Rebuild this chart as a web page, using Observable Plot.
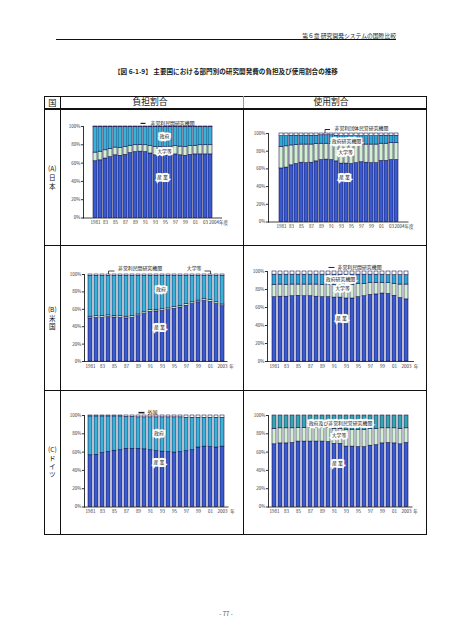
<!DOCTYPE html>
<html><head><meta charset="utf-8">
<script src="https://cdn.jsdelivr.net/npm/d3@7"></script>
<script src="https://cdn.jsdelivr.net/npm/@observablehq/plot@0.6"></script>
<style>
body{margin:0;background:#fff;}
#page{position:relative;width:452px;height:640px;font-family:"Noto Sans CJK JP","Noto Sans CJK SC",sans-serif;color:#1a1a1a;overflow:hidden;background:#fff}
.t{position:absolute;white-space:nowrap;line-height:1;color:#1a1a1a}
.rl{position:absolute;white-space:pre;text-align:center;color:#111;width:30px}
.ln{position:absolute;background:#111}
</style></head>
<body><div id="page"></div>
<script>
// ---------- categories & tick labels ----------
const yearsJp = [1981,1982,1983,1984,1985,1986,1987,1988,1989,1990,1991,1992,1993,1994,1995,1996,1997,1998,1999,2000,2001,2002,2003,2004];
const yearsUsDe = [1981,1982,1983,1984,1985,1986,1987,1988,1989,1990,1991,1992,1993,1994,1995,1996,1997,1998,1999,2000,2001,2002,2003];
const xTicksJp = [1981,1983,1985,1987,1989,1991,1993,1995,1997,1999,2001,2003];
const xTickLabelsJp = ["1981","83","85","87","89","91","93","95","97","99","01","03"];
const xEndYearJp = 2004, xEndLabelJp = "2004年度";
const xTicksUsDe = [1981,1983,1985,1987,1989,1991,1993,1995,1997,1999,2001,2003];
const xTickLabelsUsDe = ["1981","83","85","87","89","91","93","95","97","99","01","2003"];
const xEndYearUsDe = 2003, xEndLabelUsDe = "年";

// ---------- (A) Japan ----------
const jpBurdenSectors = ["産業","大学等","政府","非営利民間研究機関"];
const jpBurdenIndustry = [62,63,65,66.5,68.5,68,69,71,72,72.5,72,70.5,68.5,68,68,68.5,69.5,68.5,68,69,69.5,69.5,69.5,69.5];
const jpBurdenUniv     = [9.5,9.5,9,9,8.5,8.5,8.5,8,7.5,7.5,7.5,8,9,9.5,9.5,9.5,9,9.5,9.5,9.5,9.5,10,10,10];
const jpBurdenGov      = [27.7,26.7,25.2,23.7,22.2,22.7,21.7,20.2,19.7,19.2,19.7,20.7,21.7,21.7,21.7,21.2,20.7,21.2,21.7,20.7,20.2,19.7,19.7,19.7];
const jpBurdenNonprofit= [0.8,0.8,0.8,0.8,0.8,0.8,0.8,0.8,0.8,0.8,0.8,0.8,0.8,0.8,0.8,0.8,0.8,0.8,0.8,0.8,0.8,0.8,0.8,0.8];

const jpUseSectors = ["産業","大学等","政府研究機関","非営利団体民営研究機関"];
const jpUseIndustry = [60.5,61.5,64,65.5,67,66.5,67,68.5,70,70.5,70,68.5,66,66,65.5,66.5,67.5,67,66.5,66.5,69,69,70,70];
const jpUseUniv     = [24.5,24,22.5,21.5,20.5,21,20.5,19.5,18.5,18,18.5,19.5,21,21,21.5,20.5,20,20.5,21,21,19.5,19.5,19,19];
const jpUseGov      = [12,11.5,11,10.5,10,10,10,9.5,9.5,9.5,9.5,9.5,10,10,10,10,9.5,9.5,9.5,9.5,9,9,8.5,8.5];
const jpUseNonprofit= [3,3,2.5,2.5,2.5,2.5,2.5,2.5,2,2,2,2.5,3,3,3,3,3,3,3,3,2.5,2.5,2.5,2.5];

// ---------- (B) USA ----------
const usBurdenSectors = ["産業","大学等","政府","非営利民間研究機関"];
const usBurdenIndustry = [49.5,50,50,51,50.5,50,49.5,50,52,54.5,57,57.5,58,59,60.5,62,64,66,68,69.5,68.5,66,63.5];
const usBurdenUniv     = [2,2,2,2,2,2,2,2,2,2,2,2,2,2,2,2,2,2,2,2,2,2,2];
const usBurdenGov      = [47,46.5,46.5,45.5,46,46.5,47,46.5,44.5,42,39.5,39,38.5,37.5,36,34.5,32.5,30.5,28.5,27,28,30.5,33];
const usBurdenNonprofit= [1.5,1.5,1.5,1.5,1.5,1.5,1.5,1.5,1.5,1.5,1.5,1.5,1.5,1.5,1.5,1.5,1.5,1.5,1.5,1.5,1.5,1.5,1.5];

const usUseSectors = ["産業","大学等","政府研究機関","非営利民間研究機関"];
const usUseIndustry = [71.5,72,72,72.5,73,72.5,72.5,72,71.5,71.5,71,71,70,70,71.5,72.5,74,74.5,75.5,75,73,70.5,69];
const usUseUniv     = [13.5,13.5,13,13,12.5,13,13,13.5,13.5,14,14,14.5,15,15,14.5,13.5,13,13,12,12,13,15,16.5];
const usUseGov      = [11.5,11,11.5,11,11,11,11,11,11.5,11,11.5,11,11.5,11.5,10.5,10.5,9.5,9,9,9,10,10.5,10.5];
const usUseNonprofit= [3.5,3.5,3.5,3.5,3.5,3.5,3.5,3.5,3.5,3.5,3.5,3.5,3.5,3.5,3.5,3.5,3.5,3.5,3.5,4,4,4,4];

// ---------- (C) Germany ----------
const deBurdenSectors = ["産業","政府","外国"];
const deBurdenIndustry = [56.5,57,59,60,61.5,62,63.5,63.5,63.5,63,62,61,60.5,60,59.5,60,61,62,65,66,65.5,65,66];
const deBurdenGov      = [42.5,42,40,39,37.5,37,35,35,34.5,35,36,37,37.5,38,38.5,38,36.5,35.5,32.5,31.5,32,32.5,31.5];
const deBurdenForeign  = [1,1,1,1,1,1,1.5,1.5,2,2,2,2,2,2,2,2,2.5,2.5,2.5,2.5,2.5,2.5,2.5];

const deUseSectors = ["産業","大学等","政府及び非営利民営研究機関"];
const deUseIndustry = [68.5,69.5,69.5,70,71.5,71.5,71.5,71.5,71.5,71,69,69,66,66,65.5,65.5,67,67.5,69.5,70,69.5,68.5,70];
const deUseUniv     = [17,16.5,16.5,16,15,15,15,15,15,15.5,16.5,16.5,18.5,18.5,19,19,18,17.5,16.5,16,16.5,17,16];
const deUseOther    = [14.5,14,14,14,13.5,13.5,13.5,13.5,13.5,13.5,14.5,14.5,15.5,15.5,15.5,15.5,15,15,14,14,14,14.5,14];

// ---------- row labels ----------
const rowLabelA = "(A)\n日\n本";
const rowLabelB = "(B)\n米\n国";
const rowLabelC = "(C)\nド\nイ\nツ";

// ---------- styles ----------
const FONT = "'Noto Sans CJK JP','Noto Sans CJK SC',sans-serif";
const BLUE = "#3a5bd0", GREEN = "#d4efcf", CYAN = "#3ab2d8", CYAN2 = "#2ea7d6", TEAL = "#38a6b0", WHITE = "#ffffff";

const page = document.getElementById("page");
function txt(s, cx, cy, size, opts = {}) {
  const d = document.createElement("div");
  d.className = "t";
  d.textContent = s;
  d.style.fontSize = size + "px";
  if (opts.bold) d.style.fontWeight = "bold";
  if (opts.right != null) { d.style.right = opts.right + "px"; }
  else { d.style.left = (cx - 200) + "px"; d.style.width = "400px"; d.style.textAlign = "center"; }
  d.style.top = (cy - size / 2) + "px";
  if (opts.color) d.style.color = opts.color;
  page.appendChild(d);
}
function rowLabel(s, cx, firstCy, lineH, size) {
  const d = document.createElement("div");
  d.className = "rl";
  d.textContent = s;
  d.style.fontSize = size + "px";
  d.style.lineHeight = lineH + "px";
  d.style.left = (cx - 15) + "px";
  d.style.top = (firstCy - lineH / 2) + "px";
  page.appendChild(d);
}
function line(x, y, w, h, color) {
  const d = document.createElement("div");
  d.className = "ln";
  d.style.left = x + "px"; d.style.top = y + "px"; d.style.width = w + "px"; d.style.height = h + "px";
  if (color) d.style.background = color;
  page.appendChild(d);
}

// page header
txt("第６章  研究開発システムの国際比較", 0, 36, 5.8, {right: 56});
line(56, 39, 340, 0.8);
txt("【図 6-1-9】 主要国における部門別の研究開発費の負担及び使用割合の推移", 226, 71, 6.6, {bold: true});

// table
line(44, 96, 383, 1);          // top
line(44, 107.8, 383, 2.2);     // header bottom (thick)
line(44, 244.5, 383, 1);
line(44, 389.5, 383, 1);
line(44, 533.5, 383, 1.3);     // bottom
line(44, 96, 1.2, 438.8);      // left
line(59.8, 96, 1, 438);        // 国 column
line(243.2, 96, 1, 12, "#999");
line(243.2, 108, 1, 426);
line(426, 96, 1.2, 438.8);     // right
txt("国", 52.3, 102.5, 8.2);
txt("負担割合", 150, 102.5, 8.8);
txt("使用割合", 331, 102.5, 8.8);
rowLabel(rowLabelA, 52.3, 168, 9, 6.6);
rowLabel(rowLabelB, 52.3, 309.5, 8.5, 6.6);
rowLabel(rowLabelC, 52.3, 449.3, 8.4, 6.6);
txt("- 77 -", 226, 614, 6, {color: "#444"});

// ---------- chart factory ----------
function drawChart(cfg) {
  const rows = [];
  cfg.years.forEach((yr, i) => cfg.series.forEach((s, k) => rows.push({year: yr, sector: cfg.sectors[k], value: s[i]})));
  const [x0, x1, y0, y1] = cfg.area;
  const ml = 24, mr = 36, mt = 16, mb = 14;
  const marks = [
    Plot.barY(rows, {x: "year", y: "value", fill: "sector", stroke: "#0c0c48", strokeWidth: 0.55}),
    Plot.ruleY([0], {stroke: "#111", strokeWidth: 0.8}),
    Plot.text(cfg.xTicks, {x: d => d, text: (d, i) => cfg.xTickLabels[i], frameAnchor: "bottom", dy: 6, fill: "#333"}),
    Plot.text([cfg.endYear], {x: d => d, text: () => cfg.endLabel, frameAnchor: "bottom", dy: 6, dx: cfg.endDx, textAnchor: cfg.endAnchor, fill: "#333"})
  ];
  for (const l of cfg.links || []) {
    marks.push(Plot.link([l], {x1: "x1", x2: "x2", y1: "y1", y2: "y2", stroke: "#222", strokeWidth: l.w || 0.8, dx: l.dx || 0}));
  }
  for (const n of cfg.notes) {
    const o = {x: "year", y: "y", text: "text", dx: n.dx || 0, textAnchor: n.anchor || "middle", fontSize: 4.9};
    if (n.box) marks.push(Plot.text([n], {...o, fill: "white", stroke: "white", strokeWidth: 3.2, strokeLinejoin: "miter"}));
    marks.push(Plot.text([n], {...o, fill: "#111"}));
  }
  const svg = Plot.plot({
    width: x1 - x0 + ml + mr, height: y1 - y0 + mt + mb,
    marginLeft: ml, marginRight: mr, marginTop: mt, marginBottom: mb,
    style: {fontFamily: FONT, fontSize: "4.5px", color: "#333", background: "transparent", overflow: "visible"},
    x: {domain: cfg.years, axis: null, paddingInner: 0.28, paddingOuter: 0.12},
    y: {domain: [0, 100], ticks: 5, tickFormat: d => d + "%", tickSize: 2, tickPadding: 1.2, label: null, line: true},
    color: {domain: cfg.sectors, range: cfg.colors},
    marks
  });
  svg.style.position = "absolute";
  svg.style.left = (x0 - ml) + "px";
  svg.style.top = (y0 - mt) + "px";
  svg.style.background = "transparent";
  svg.style.overflow = "visible";
  page.appendChild(svg);
}

const jpAxis = {years: yearsJp, xTicks: xTicksJp, xTickLabels: xTickLabelsJp, endYear: xEndYearJp, endLabel: xEndLabelJp, endAnchor: "start", endDx: -1.5};
const usdeAxis = {years: yearsUsDe, xTicks: xTicksUsDe, xTickLabels: xTickLabelsUsDe, endYear: xEndYearUsDe, endLabel: xEndLabelUsDe, endAnchor: "middle", endDx: 9};

// (A) Japan, burden
drawChart({...jpAxis, area: [83, 222, 125.5, 217],
  sectors: jpBurdenSectors, colors: [BLUE, GREEN, CYAN, WHITE],
  series: [jpBurdenIndustry, jpBurdenUniv, jpBurdenGov, jpBurdenNonprofit],
  links: [{x1: 1990, x2: 1991, y1: 103.4, y2: 103.4, w: 1.2}],
  notes: [
    {text: "非営利民間研究機関", year: 1992, y: 103.6, anchor: "start"},
    {text: "政府", year: 1995, y: 88.9, dx: -1, box: true},
    {text: "大学等", year: 1995, y: 72.5, dx: -1, box: true},
    {text: "産 業", year: 1995, y: 44, dx: -3, box: true}
  ]});
// (A) Japan, use
drawChart({...jpAxis, endDx: -2, area: [267.5, 408, 132.5, 221],
  sectors: jpUseSectors, colors: [BLUE, GREEN, CYAN2, WHITE],
  series: [jpUseIndustry, jpUseUniv, jpUseGov, jpUseNonprofit],
  links: [{x1: 1990, x2: 1991, y1: 104.5, y2: 104.5, dx: -1.5, w: 1}, {x1: 1990, x2: 1990, y1: 104.5, y2: 100.6, dx: -1.5, w: 0.8}],
  notes: [
    {text: "非営利団体民営研究機関", year: 1991, y: 106.2, dx: 3, anchor: "start"},
    {text: "政府研究機関", year: 1994, y: 91.5, box: true},
    {text: "大学等", year: 1994, y: 78.3, dx: -1, box: true},
    {text: "産 業", year: 1994, y: 50.8, dx: -2, box: true}
  ]});
// (B) USA, burden
drawChart({...usdeAxis, area: [83.5, 227, 273.5, 360.5],
  sectors: usBurdenSectors, colors: [BLUE, GREEN, CYAN, WHITE],
  series: [usBurdenIndustry, usBurdenUniv, usBurdenGov, usBurdenNonprofit],
  links: [{x1: 1984, x2: 1985, y1: 104, y2: 104}, {x1: 1984, x2: 1984, y1: 104, y2: 100.5},
          {x1: 2000, x2: 2001, y1: 104, y2: 104}, {x1: 2001, x2: 2001, y1: 104, y2: 100.5}],
  notes: [
    {text: "非営利民間研究機関", year: 1985, y: 107, dx: 3.5, anchor: "start"},
    {text: "大学等", year: 2000, y: 107, dx: -3, anchor: "end"},
    {text: "政府", year: 1993, y: 83, dx: -1.5, box: true},
    {text: "産 業", year: 1993, y: 39.3, dx: -3, box: true}
  ]});
// (B) USA, use
drawChart({...usdeAxis, endDx: 9.5, area: [267, 414, 271, 361],
  sectors: usUseSectors, colors: [BLUE, GREEN, CYAN2, WHITE],
  series: [usUseIndustry, usUseUniv, usUseGov, usUseNonprofit],
  links: [{x1: 1990, x2: 1991, y1: 104.5, y2: 104.5, w: 1}],
  notes: [
    {text: "非営利民間研究機関", year: 1991, y: 104.8, dx: 3, anchor: "start"},
    {text: "政府研究機関", year: 1992, y: 91.4, box: true},
    {text: "大学等", year: 1992, y: 81.4, dx: 2, box: true},
    {text: "産 業", year: 1992, y: 48.1, dx: 1, box: true}
  ]});
// (C) Germany, burden
drawChart({...usdeAxis, endDx: 10, area: [83.5, 228, 414.5, 506],
  sectors: deBurdenSectors, colors: [BLUE, CYAN, WHITE],
  series: [deBurdenIndustry, deBurdenGov, deBurdenForeign],
  links: [{x1: 1989, x2: 1990, y1: 103.1, y2: 103.1, w: 1.6}],
  notes: [
    {text: "外国", year: 1990, y: 103.1, dx: 3, anchor: "start"},
    {text: "政府", year: 1992, y: 80.1, dx: 2.5, box: true},
    {text: "産 業", year: 1992, y: 48.4, dx: 2.5, box: true}
  ]});
// (C) Germany, use
drawChart({...usdeAxis, endDx: 9, area: [267.5, 412, 414.5, 506],
  sectors: deUseSectors, colors: [BLUE, GREEN, TEAL],
  series: [deUseIndustry, deUseUniv, deUseOther],
  notes: [
    {text: "政府及び非営利民営研究機関", year: 1992, y: 91, box: true},
    {text: "大学等", year: 1992, y: 78.4, dx: -1.5, box: true},
    {text: "産 業", year: 1992, y: 47.3, dx: -3, box: true}
  ]});
</script>
</body></html>
